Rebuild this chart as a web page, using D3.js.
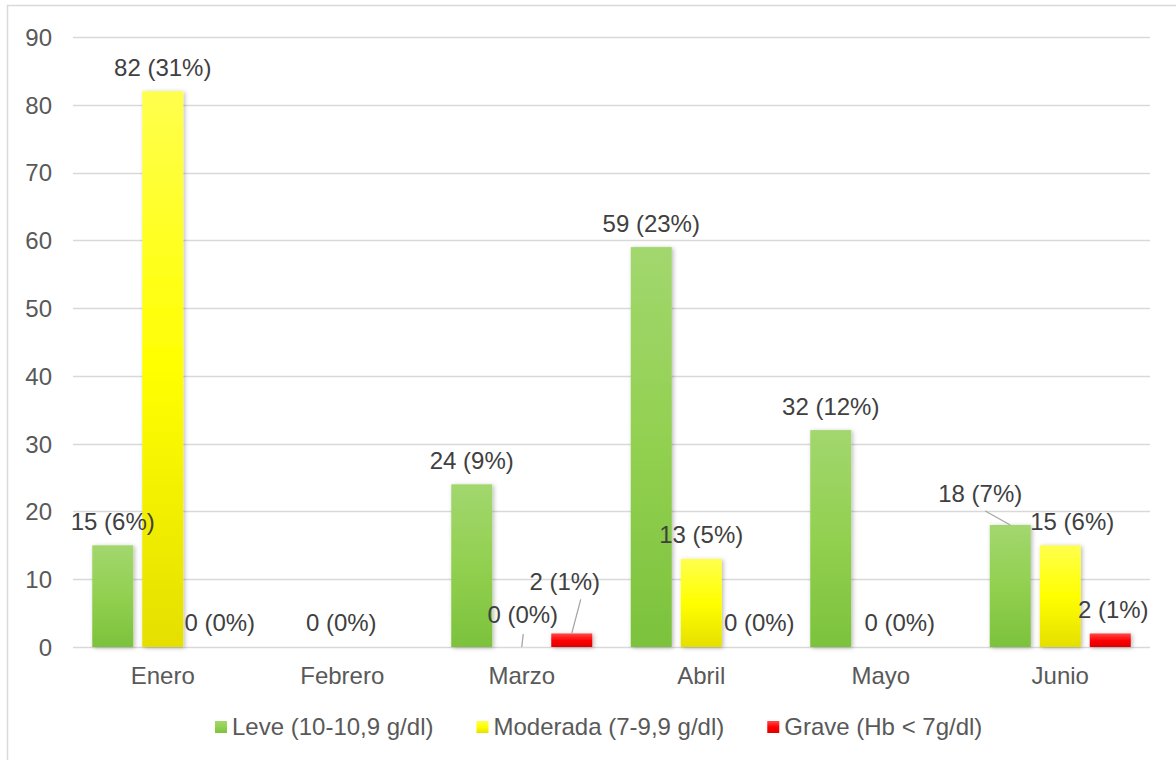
<!DOCTYPE html>
<html lang="es">
<head>
<meta charset="utf-8">
<title>Anemia por mes</title>
<script src="https://cdn.jsdelivr.net/npm/d3@7/dist/d3.min.js"></script>
<style>
  html, body { margin: 0; padding: 0; background: #ffffff; }
  svg { display: block; font-family: "Liberation Sans", Arial, sans-serif; }
</style>
</head>
<body>
<svg id="chart" width="1176" height="760"></svg>
<script>
// Months on the category axis
const categories = ["Enero", "Febrero", "Marzo", "Abril", "Mayo", "Junio"];

// Severity series
const seriesNames = ["Leve (10-10,9 g/dl)", "Moderada (7-9,9 g/dl)", "Grave (Hb < 7g/dl)"];
const leve     = [15, 0, 24, 59, 32, 18];
const moderada = [82, 0,  0, 13,  0, 15];
const grave    = [ 0, 0,  2,  0,  0,  2];

// Value axis ticks
const yTicks = [0, 10, 20, 30, 40, 50, 60, 70, 80, 90];

// Label placement tweaks: [series index, category index, dx, dy, leader start dx, leader start dy]
// Labels that are hidden (overlapping zero labels) are listed separately.
const hiddenLabels = [[0, 1], [2, 1], [2, 4]];
const labelTweaks = [
  [2, 0,   7,   0],
  [1, 1,  -1,   0],
  [1, 2,   1,  -8,  0.5, 19],
  [2, 2,  -7, -28,  16,  18],
  [2, 3,   8,   0],
  [1, 4,  19,   0],
  [0, 5, -30,  -7,   5,  17],
  [1, 5,  12,   0],
  [2, 5,   3,   0]
];

const FONT = "24px";

const svg = d3.select("#chart");
const W = 1176, H = 760;
const margin = { left: 73, right: 26, top: 37, bottom: 113 };

const allSeries = [leve, moderada, grave];
const total = d3.sum(allSeries.flat());

// Chart frame
svg.append("rect")
  .attr("x", 7.5).attr("y", 5.5)
  .attr("width", W + 20).attr("height", H + 20)
  .attr("fill", "#ffffff")
  .attr("stroke", "#d9d9d9").attr("stroke-width", 1.5);

const defs = svg.append("defs");

function vGrad(id, stops) {
  const g = defs.append("linearGradient").attr("id", id)
    .attr("x1", 0).attr("y1", 0).attr("x2", 0).attr("y2", 1);
  stops.forEach(([o, c]) => g.append("stop").attr("offset", o).attr("stop-color", c));
}
vGrad("g-leve", [[0, "#a2d76e"], [0.5, "#92d050"], [1, "#7cc23c"]]);
vGrad("g-mod",  [[0, "#ffff4d"], [0.5, "#ffff00"], [1, "#e5df00"]]);
vGrad("g-grave",[[0, "#ff4a4a"], [0.5, "#ff0000"], [1, "#dd0000"]]);
const fills = ["url(#g-leve)", "url(#g-mod)", "url(#g-grave)"];

const shadow = defs.append("filter").attr("id", "shadow")
  .attr("x", "-30%").attr("y", "-30%").attr("width", "160%").attr("height", "160%");
shadow.append("feDropShadow")
  .attr("dx", 1.5).attr("dy", 1).attr("stdDeviation", 2.2)
  .attr("flood-color", "#000").attr("flood-opacity", 0.28);

// Scales
const x0 = d3.scaleBand()
  .domain(categories)
  .range([margin.left, W - margin.right]);

const x1 = d3.scaleBand()
  .domain(d3.range(seriesNames.length))
  .range([0, x0.bandwidth()])
  .paddingInner(0.18)
  .paddingOuter(0.385);

const y = d3.scaleLinear()
  .domain([0, 90])
  .range([H - margin.bottom, margin.top]);

// Gridlines
svg.append("g")
  .selectAll("line")
  .data(yTicks)
  .join("line")
  .attr("x1", margin.left).attr("x2", W - margin.right)
  .attr("y1", d => Math.round(y(d)) + 0.5)
  .attr("y2", d => Math.round(y(d)) + 0.5)
  .attr("stroke", "#d9d9d9").attr("stroke-width", 1.3);

// Value axis labels
const yAxis = d3.axisLeft(y).tickValues(yTicks).tickSize(0).tickPadding(0);
const yG = svg.append("g").attr("transform", "translate(52,0)").call(yAxis);
yG.select(".domain").remove();
yG.selectAll("text")
  .attr("font-size", FONT)
  .attr("font-family", "'Liberation Sans', Arial, sans-serif")
  .attr("fill", "#595959")
  .attr("dy", "0.35em");

// Category axis labels
const xAxis = d3.axisBottom(x0).tickSize(0).tickPadding(0);
const xG = svg.append("g").attr("transform", `translate(0,${y(0) + 20})`).call(xAxis);
xG.select(".domain").remove();
xG.selectAll("text")
  .attr("font-size", FONT)
  .attr("font-family", "'Liberation Sans', Arial, sans-serif")
  .attr("fill", "#595959")
  .attr("dy", "0.71em");

// Bars
const barData = [];
allSeries.forEach((vals, s) => vals.forEach((v, c) => barData.push({ s, c, v })));

svg.append("g")
  .selectAll("rect")
  .data(barData.filter(d => d.v > 0))
  .join("rect")
  .attr("x", d => x0(categories[d.c]) + x1(d.s))
  .attr("width", x1.bandwidth())
  .attr("y", d => y(d.v))
  .attr("height", d => y(0) - y(d.v))
  .attr("fill", d => fills[d.s])
  .attr("filter", "url(#shadow)");

// Data labels: "value (share of total)"
const hiddenKey = new Set(hiddenLabels.map(([s, c]) => s + "-" + c));
const tweakMap = new Map(labelTweaks.map(t => [t[0] + "-" + t[1], t]));

const labelG = svg.append("g");
barData.filter(d => !hiddenKey.has(d.s + "-" + d.c)).forEach(d => {
  const t = tweakMap.get(d.s + "-" + d.c) || [d.s, d.c, 0, 0];
  const cx = x0(categories[d.c]) + x1(d.s) + x1.bandwidth() / 2;
  const top = y(d.v);
  const lx = cx + t[2];
  const ly = top - 24 + t[3];
  const pct = Math.round(d.v / total * 100);
  if (t.length > 4) {
    labelG.append("line")
      .attr("x1", lx + t[4]).attr("y1", ly + t[5])
      .attr("x2", cx).attr("y2", top)
      .attr("stroke", "#a6a6a6").attr("stroke-width", 1.3);
  }
  labelG.append("text")
    .attr("x", lx).attr("y", ly)
    .attr("dy", "0.35em")
    .attr("text-anchor", "middle")
    .attr("font-size", FONT)
    .attr("fill", "#404040")
    .text(`${d.v} (${pct}%)`);
});

// Legend
const legend = svg.append("g").attr("transform", "translate(215,727)");
let lxPos = 0;
seriesNames.forEach((name, i) => {
  const item = legend.append("g").attr("transform", `translate(${lxPos},0)`);
  item.append("rect")
    .attr("x", 0).attr("y", -6).attr("width", 12).attr("height", 12)
    .attr("fill", fills[i]);
  const txt = item.append("text")
    .attr("x", 17).attr("y", 0).attr("dy", "0.35em")
    .attr("font-size", FONT)
    .attr("fill", "#595959")
    .text(name);
  lxPos += 17 + txt.node().getComputedTextLength() + 43;
});
</script>
</body>
</html>
